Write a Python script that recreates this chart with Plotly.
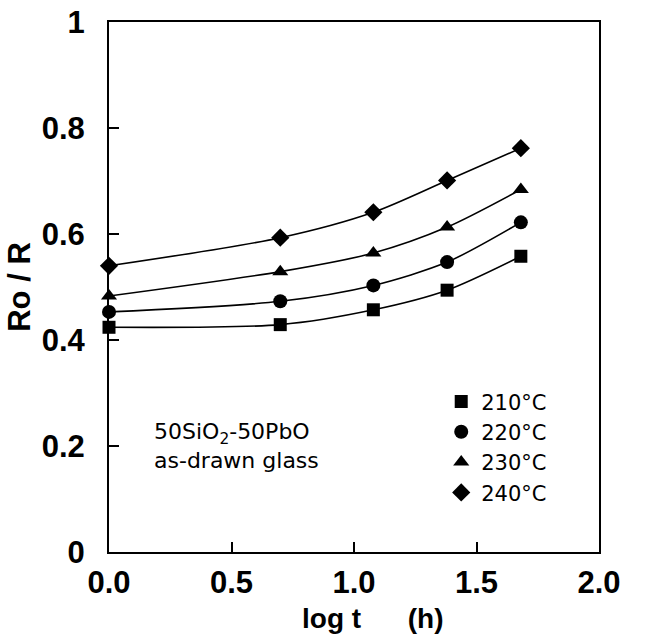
import plotly.graph_objects as go

# log of anneal time (h): 1, 5, 12, 24, 48 h
log_t = [0.0, 0.699, 1.079, 1.380, 1.681]

temps = ["210°C", "220°C", "230°C", "240°C"]
ratio_210 = [0.424, 0.429, 0.457, 0.494, 0.558]
ratio_220 = [0.453, 0.473, 0.503, 0.547, 0.622]
ratio_230 = [0.483, 0.529, 0.564, 0.613, 0.684]
ratio_240 = [0.540, 0.593, 0.641, 0.701, 0.762]
series = [ratio_210, ratio_220, ratio_230, ratio_240]
symbols = ["square", "circle", "triangle-up", "diamond"]
sizes = [13, 14, 14, 14]

x_ticks = [0.0, 0.5, 1.0, 1.5, 2.0]
x_tick_text = ["0.0", "0.5", "1.0", "1.5", "2.0"]
y_ticks = [0, 0.2, 0.4, 0.6, 0.8, 1.0]
y_tick_text = ["0", "0.2", "0.4", "0.6", "0.8", "1"]

FONT = "Liberation Sans, Arial, Helvetica, sans-serif"
TEXT_FONT = "DejaVu Sans, Verdana, sans-serif"
NBSP = "\u00a0"

fig = go.Figure()

# smooth guide curves through each series
for vals in series:
    fig.add_trace(go.Scatter(
        x=log_t, y=vals, mode="lines",
        line=dict(color="black", width=1.6, shape="spline", smoothing=0.8),
        showlegend=False, hoverinfo="skip",
    ))

# data markers (legend entries)
for name, vals, sym, sz in zip(temps, series, symbols, sizes):
    fig.add_trace(go.Scatter(
        x=log_t, y=vals, mode="markers", name=name,
        marker=dict(symbol=sym, size=sz, color="black", line=dict(width=0)),
        cliponaxis=False,
    ))

# sample description
fig.add_annotation(
    x=0.088, y=0.2, xref="paper", yref="paper",
    text="50SiO<sub>2</sub>-50PbO<br>as-drawn glass",
    showarrow=False, xanchor="left", yanchor="middle", align="left",
    font=dict(family=TEXT_FONT, size=22, color="black"),
)

# x-axis title
fig.add_annotation(
    x=0.538, y=-0.126, xref="paper", yref="paper",
    text="log t" + NBSP * 6 + "(h)",
    showarrow=False, xanchor="center", yanchor="middle",
    font=dict(family=FONT, size=28, color="black", weight="bold"),
)

axis_common = dict(
    showline=True, linecolor="black", linewidth=2, mirror=True,
    ticks="inside", ticklen=10, tickwidth=1.5, tickcolor="black",
    showgrid=False, zeroline=False, automargin=False,
    tickfont=dict(family=FONT, size=31, color="black", weight="bold"),
)

fig.update_xaxes(
    range=[0, 2], tickvals=x_ticks, ticktext=x_tick_text,
    ticklabelstandoff=2,
    **axis_common,
)
fig.update_yaxes(
    range=[0, 1], tickvals=y_ticks, ticktext=y_tick_text,
    ticklabelstandoff=16,
    title=dict(text="Ro" + NBSP + "/" + NBSP + "R", standoff=2,
               font=dict(family=FONT, size=31, color="black", weight="bold")),
    **axis_common,
)

fig.update_layout(
    width=660, height=640,
    margin=dict(l=109, r=61, t=22, b=88),
    paper_bgcolor="white", plot_bgcolor="white",
    font=dict(family=FONT, color="black"),
    legend=dict(
        x=0.678, y=0.322, xanchor="left", yanchor="top",
        bgcolor="rgba(0,0,0,0)", borderwidth=0,
        font=dict(family=TEXT_FONT, size=21, color="black"),
        itemwidth=30, tracegroupgap=0,
    ),
)

fig.write_html("out.html")
